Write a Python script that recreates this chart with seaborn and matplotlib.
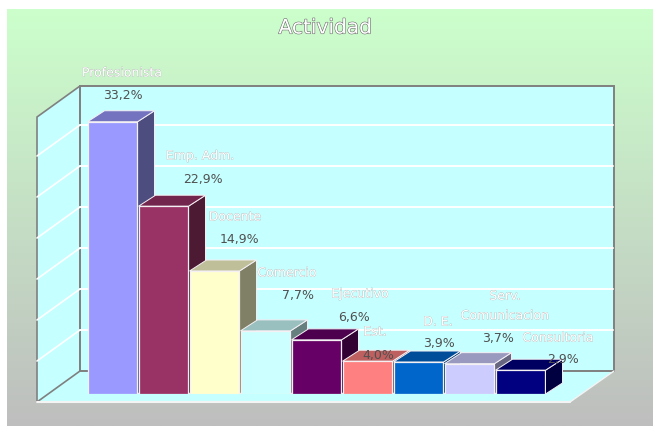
import numpy as np
import pandas as pd
import matplotlib
matplotlib.use("Agg")
import matplotlib.pyplot as plt
from matplotlib.colors import to_rgb
from matplotlib.patches import Polygon
import matplotlib.patheffects as pe
import seaborn as sns

# values (percent)
categories = ["Profesionista", "Emp. Adm.", "Docente", "Comercio", "Ejecutivo",
              "Est.", "D. E.", "Serv.\nComunicacion", "Consultoria"]
values = [33.2, 22.9, 15.0, 7.7, 6.6, 4.0, 3.9, 3.7, 2.9]
value_labels = ["33,2%", "22,9%", "14,9%", "7,7%", "6,6%", "4,0%", "3,9%", "3,7%", "2,9%"]
colors = ["#9999FF", "#993366", "#FFFFCC", "#CCFFFF", "#660066",
          "#FF8080", "#0066CC", "#CCCCFF", "#000080"]
grid_levels = [5, 10, 15, 20, 25, 30]

# pixel layout of the picture
W, H = 653, 427
PX_PER_UNIT = 41 / 5
BAR_LEFT, BAR_RIGHT, BAR_BASE = 87, 546, 395
DEPTH_PX_X, DEPTH_PX_Y = 17, 11
WALL_L, WALL_R, WALL_T, WALL_B = 80, 614, 87, 372
SIDE_X, SIDE_Y = 43, 31
label_pos = [(122, 74), (200, 157), (235, 218), (287, 274), (360, 295),
             (375, 333), (438, 323), (505, 307), (558, 339)]
value_pos = [(123, 96), (203, 180), (239, 240), (298, 296), (354, 317),
             (378, 355), (439, 344), (498, 339), (563, 359)]

sns.set_style("white")
plt.rcParams["font.family"] = ["DejaVu Sans"]

fig = plt.figure(figsize=(W / 100, H / 100), dpi=100, facecolor="white")

# background + walls, in pixel coordinates
bg = fig.add_axes([0, 0, 1, 1])
bg.axis("off")
top_col = np.array(to_rgb("#CCFFCC"))
bot_col = np.array(to_rgb("#BEBEBE"))
t = np.linspace(0, 1, 256)[:, None, None]
grad = top_col[None, None, :] * (1 - t) + bot_col[None, None, :] * t
bg.imshow(grad, extent=[7, W, H, 10], aspect="auto", zorder=0)
bg.set_xlim(0, W)
bg.set_ylim(H, 0)

wall = "#C6FFFF"
edge = "#808080"
front_y = WALL_B + SIDE_Y
front_l, front_r = WALL_L - SIDE_X, WALL_R - 44
# floor
bg.add_patch(Polygon([(front_l, front_y), (WALL_L, WALL_B), (WALL_R, WALL_B), (front_r, front_y)],
                     fc=wall, ec="none", zorder=1))
# left wall
bg.add_patch(Polygon([(front_l, WALL_T + SIDE_Y), (WALL_L, WALL_T), (WALL_L, WALL_B), (front_l, front_y)],
                     fc=wall, ec=edge, lw=1.2, zorder=1))
# back wall
bg.add_patch(Polygon([(WALL_L, WALL_T), (WALL_R, WALL_T), (WALL_R, WALL_B), (WALL_L, WALL_B)],
                     fc=wall, ec=edge, lw=1.4, zorder=1))
# floor again, over the bottom of the back wall outline between the bars
bg.add_patch(Polygon([(WALL_L + 8, WALL_B + 1), (front_r + 20, WALL_B + 1), (front_r, front_y - 1),
                      (front_l + 20, front_y - 1)], fc=wall, ec="none", zorder=2))
bg.plot([front_l, front_r], [front_y, front_y], color="#F4F4F4", lw=1.5, zorder=2)
bg.plot([front_r, WALL_R], [front_y, WALL_B], color="#F4F4F4", lw=1, zorder=2)
for level in grid_levels:
    y = WALL_B - level * PX_PER_UNIT
    bg.plot([WALL_L, WALL_R - 1], [y, y], color="white", lw=1.4, zorder=2)
    bg.plot([front_l, WALL_L], [y + SIDE_Y, y], color="white", lw=1.2, zorder=2)

# bars
n = len(categories)
ax = fig.add_axes([BAR_LEFT / W, (H - BAR_BASE) / H, (BAR_RIGHT - BAR_LEFT) / W, 320 / H])
df = pd.DataFrame({"cat": categories, "val": values})
sns.barplot(data=df, x="cat", y="val", hue="cat", palette=colors, dodge=False, width=0.98,
            saturation=1, legend=False, ax=ax, edgecolor="#F4F0F4", linewidth=0.9)
ax.set_xlim(-0.5, n - 0.5)
ax.set_ylim(0, 320 / PX_PER_UNIT)
ax.axis("off")
ax.patch.set_alpha(0)

dx = DEPTH_PX_X / ((BAR_RIGHT - BAR_LEFT) / n)
dy = DEPTH_PX_Y / PX_PER_UNIT
for i, bar in enumerate(ax.patches):
    x0, x1 = bar.get_x(), bar.get_x() + bar.get_width()
    h = bar.get_height()
    rgb = np.array(to_rgb(colors[i]))
    base_z = 3 + i * 3
    # right side face and top face
    side = Polygon([(x1, 0), (x1 + dx, dy), (x1 + dx, h + dy), (x1, h)], fc=rgb * 0.5,
                   ec="#F4F0F4", lw=0.7, clip_on=False, zorder=base_z)
    top = Polygon([(x0, h), (x0 + dx, h + dy), (x1 + dx, h + dy), (x1, h)], fc=rgb * 0.75,
                  ec="#F4F0F4", lw=0.7, clip_on=False, zorder=base_z + 1)
    ax.add_patch(side)
    ax.add_patch(top)
    bar.set_zorder(base_z + 2)


def px_text(x, y, s, **kw):
    fig.text(x / W, 1 - y / H, s, ha="center", va="center", zorder=50, **kw)


fx_label = [pe.withStroke(linewidth=0.4, foreground="#A8A8A8")]
px_text(325, 29, "Actividad", fontsize=14.5, color="white",
        path_effects=[pe.withStroke(linewidth=0.8, foreground="#6A6A6A")])
for (lx, ly), name in zip(label_pos, categories):
    px_text(lx, ly, name, fontsize=9, color="white", linespacing=1.65, path_effects=fx_label)
for (vx, vy), txt in zip(value_pos, value_labels):
    px_text(vx, vy, txt, fontsize=9, color="#505050")

fig.savefig("out.png", dpi=100)
